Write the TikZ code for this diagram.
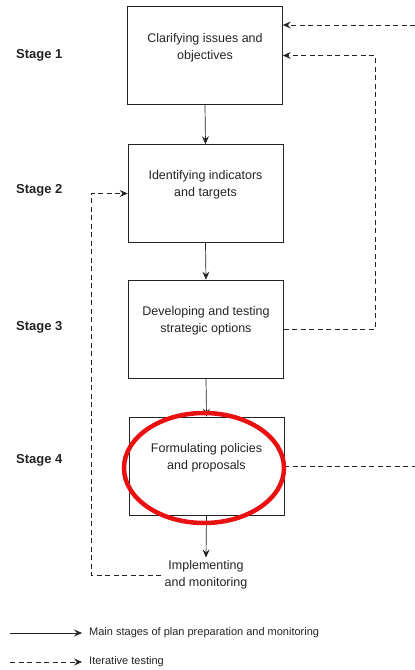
\documentclass[tikz,border=0pt]{standalone}
\usepackage{fontspec}
\setmainfont{Liberation Sans}
\usetikzlibrary{arrows.meta}
\definecolor{ink}{RGB}{35,35,35}
\definecolor{markred}{RGB}{232,16,16}
\tikzset{
  stagebox/.style={draw=ink, line width=0.7pt, minimum width=155pt, minimum height=98pt, inner sep=0pt},
  boxtext/.style={align=center, text=ink, inner sep=3pt, font=\fontsize{12.5}{17}\selectfont},
  stagelabel/.style={anchor=west, inner sep=0pt, text=ink, font=\fontsize{13}{15}\selectfont\bfseries},
  legendtext/.style={anchor=west, inner ysep=0pt, inner xsep=7pt, text=ink, font=\fontsize{11}{13}\selectfont},
  main/.style={draw=ink, line width=0.7pt, -{Stealth[length=8pt,width=7pt,inset=3pt]}},
  iter/.style={draw=ink, line width=0.7pt, dash pattern=on 5pt off 3.5pt},
}
\begin{document}
\begin{tikzpicture}[x=1pt,y=-1pt]
      \useasboundingbox (0,0) rectangle (415,670);
      % stage labels
      \node[stagelabel] at (16,55) (L1) {Stage 1};
      \node[stagelabel] at (16,190) (L2) {Stage 2};
      \node[stagelabel] at (16,327) (L3) {Stage 3};
      \node[stagelabel] at (16,460) (L4) {Stage 4};
      % boxes
      \node[stagebox] at (205,55.5) (B1) {};
      \node[stagebox] at (205.5,193.5) (B2) {};
      \node[stagebox] at (206,329) (B3) {};
      \node[stagebox] at (206.5,466) (B4) {};
      \node[boxtext] at (205,47.5) (T1) {Clarifying issues and\\objectives};
      \node[boxtext] at (205.5,184.5) (T2) {Identifying indicators\\and targets};
      \node[boxtext] at (206,320.5) (T3) {Developing and testing\\strategic options};
      \node[boxtext] at (206.5,458) (T4) {Formulating policies\\and proposals};
      \node[boxtext] at (206,575) (Impl) {Implementing\\and monitoring};
      % main stages
      \draw[main] (B1.south) -- (B2.north);
      \draw[main] (B2.south) -- (B3.north);
      \draw[main] (B3.south) -- (B4.north);
      \draw[main] (B4.south) -- (Impl.north);
      % iterative testing
      \coordinate (R1) at (415,25);
      \coordinate (R2) at (375,55.5);
      \coordinate (R3) at (415,466);
      \coordinate (Q1) at (91,193.5);
      \draw[iter, main] (R1) -- (R1 -| B1.east);
      \draw[iter, main] (B3.east) -| (R2) -- (B1.east);
      \draw[iter] (B4.east) -- (R3);
      \draw[iter, main] (Impl.west) -| (Q1) -- (B2.west);
      % highlight
      \draw[markred, line width=4.5pt] (204,468) ellipse (80 and 55);
      % legend
      \coordinate (K1) at (10,633);
      \coordinate (K2) at (10,662);
      \node[legendtext] at (82,633) (K1t) {Main stages of plan preparation and monitoring};
      \node[legendtext] at (82,662) (K2t) {Iterative testing};
      \draw[main] (K1) -- (K1t.west);
      \draw[iter, main] (K2) -- (K2t.west);
    \end{tikzpicture}
\end{document}
